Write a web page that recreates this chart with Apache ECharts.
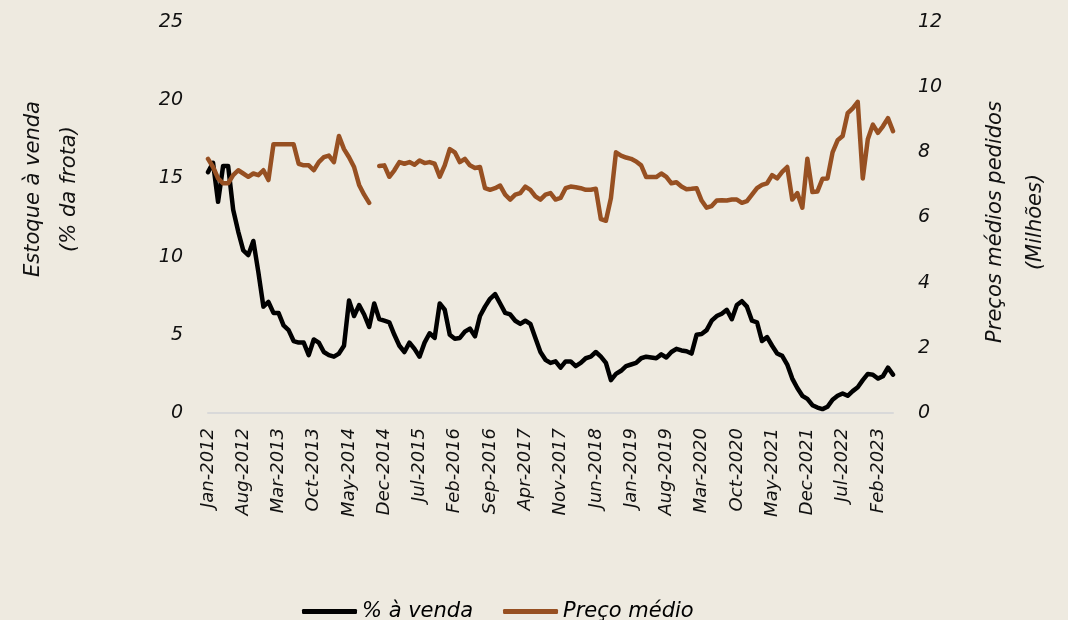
<!DOCTYPE html>
<html>
<head>
<meta charset="utf-8">
<script src="https://cdn.jsdelivr.net/npm/echarts@6/dist/echarts.min.js"></script>
<style>
html,body{margin:0;padding:0;background:#EEEAE0;}
#c{width:1068px;height:620px;}
</style>
</head>
<body>
<div id="c"></div>
<script>
// Categories: monthly, Jan-2012 .. May-2023
const monthNames = ['Jan','Feb','Mar','Apr','May','Jun','Jul','Aug','Sep','Oct','Nov','Dec'];
const startYear = 2012;
const nMonths = 137;
const categories = [];
for (let i = 0; i < nMonths; i++) {
  categories.push(monthNames[i % 12] + '-' + (startYear + Math.floor(i / 12)));
}

// % à venda (left axis, % da frota)
const pctForSale = [
  15.4,16.0,13.5,15.8,15.8,13.0,11.6,10.4,10.1,11.0,
  9.0,6.8,7.1,6.4,6.4,5.6,5.3,4.6,4.5,4.5,
  3.7,4.7,4.5,3.9,3.7,3.6,3.8,4.3,7.2,6.2,
  6.9,6.3,5.5,7.0,6.0,5.9,5.8,5.0,4.3,3.9,
  4.5,4.1,3.6,4.5,5.1,4.8,7.0,6.6,5.0,4.75,
  4.8,5.2,5.4,4.9,6.2,6.8,7.3,7.6,7.0,6.4,
  6.3,5.9,5.7,5.9,5.7,4.8,3.9,3.4,3.2,3.3,
  2.9,3.3,3.3,3.0,3.2,3.5,3.6,3.9,3.6,3.2,
  2.1,2.5,2.7,3.0,3.1,3.2,3.5,3.6,3.55,3.5,
  3.75,3.55,3.9,4.1,4.0,3.95,3.8,5.0,5.05,5.3,
  5.9,6.2,6.35,6.6,6.0,6.9,7.15,6.8,5.9,5.8,
  4.6,4.85,4.3,3.8,3.65,3.1,2.2,1.6,1.1,0.9,
  0.5,0.35,0.25,0.4,0.85,1.1,1.25,1.1,1.4,1.65,
  2.1,2.5,2.45,2.2,2.35,2.9,2.45
];

// Preço médio (right axis, milhões)
const avgPrice = [
  7.8,7.55,7.2,7.05,7.05,7.3,7.45,7.35,7.25,7.35,
  7.3,7.45,7.15,8.25,8.25,8.25,8.25,8.25,7.65,7.6,
  7.6,7.45,7.7,7.85,7.9,7.7,8.5,8.1,7.85,7.55,
  7.0,6.7,6.45,null,7.58,7.6,7.25,7.45,7.7,7.65,
  7.7,7.62,7.75,7.67,7.7,7.65,7.25,7.6,8.1,8.0,
  7.7,7.8,7.6,7.52,7.55,6.9,6.85,6.9,6.98,6.7,
  6.55,6.7,6.75,6.95,6.85,6.65,6.55,6.7,6.75,6.55,
  6.6,6.9,6.95,6.93,6.9,6.85,6.85,6.88,5.95,5.9,
  6.6,8.0,7.9,7.84,7.8,7.72,7.6,7.24,7.24,7.24,
  7.35,7.25,7.05,7.08,6.95,6.87,6.88,6.9,6.52,6.3,
  6.35,6.52,6.53,6.52,6.55,6.55,6.45,6.5,6.7,6.9,
  7.0,7.05,7.3,7.2,7.4,7.55,6.55,6.75,6.3,7.8,
  6.78,6.8,7.19,7.2,8.0,8.37,8.5,9.2,9.35,9.55,
  7.2,8.4,8.85,8.6,8.8,9.05,8.65
];

const leftTicks = {min:0, max:25, interval:5};
const rightTicks = {min:0, max:12, interval:2};
const seriesNames = ['% à venda', 'Preço médio'];
const leftTitle = 'Estoque à venda\n(% da frota)';
const rightTitle = 'Preços médios pedidos\n(Milhões)';

const FONT = 'DejaVu Sans';
const chart = echarts.init(document.getElementById('c'), null, {renderer:'canvas'});
chart.setOption({
  backgroundColor: '#EEEAE0',
  animation: false,
  grid: {left: 208, right: 175, top: 22, bottom: 207, containLabel: false},
  legend: {
    data: seriesNames,
    left: 297, top: 596,
    icon: 'roundRect',
    itemWidth: 55, itemHeight: 5,
    itemGap: 30,
    textStyle: {fontFamily: FONT, fontStyle: 'italic', fontSize: 21, color: '#000'}
  },
  xAxis: {
    type: 'category',
    data: categories,
    boundaryGap: false,
    axisLine: {lineStyle: {color: '#D9D9D9', width: 2}},
    axisTick: {show: false},
    axisLabel: {
      interval: 6, rotate: 90, margin: 15,
      fontFamily: FONT, fontStyle: 'italic', fontSize: 18, color: '#111'
    },
    splitLine: {show: false}
  },
  yAxis: [
    {
      type: 'value', min: leftTicks.min, max: leftTicks.max, interval: leftTicks.interval,
      axisLine: {show: false}, axisTick: {show: false}, splitLine: {show: false},
      axisLabel: {margin: 25, fontFamily: FONT, fontStyle: 'italic', fontSize: 19, color: '#111'}
    },
    {
      type: 'value', min: rightTicks.min, max: rightTicks.max, interval: rightTicks.interval,
      position: 'right',
      axisLine: {show: false}, axisTick: {show: false}, splitLine: {show: false},
      axisLabel: {margin: 25, fontFamily: FONT, fontStyle: 'italic', fontSize: 19, color: '#111'}
    }
  ],
  graphic: [
    {
      type: 'text', x: 52, y: 189, rotation: Math.PI / 2,
      style: {text: leftTitle, textAlign: 'center', textVerticalAlign: 'middle',
        font: 'italic 21px "DejaVu Sans"', lineHeight: 36, fill: '#111'}
    },
    {
      type: 'text', x: 1016, y: 222, rotation: Math.PI / 2,
      style: {text: rightTitle, textAlign: 'center', textVerticalAlign: 'middle',
        font: 'italic 21px "DejaVu Sans"', lineHeight: 40, fill: '#111'}
    }
  ],
  series: [
    {
      name: seriesNames[0], type: 'line', yAxisIndex: 0, data: pctForSale,
      showSymbol: false, symbol: 'none',
      lineStyle: {color: '#000000', width: 4.5, join: 'round', cap: 'round'},
      itemStyle: {color: '#000000'}
    },
    {
      name: seriesNames[1], type: 'line', yAxisIndex: 1, data: avgPrice,
      showSymbol: false, symbol: 'none', connectNulls: false,
      lineStyle: {color: '#975022', width: 4.5, join: 'round', cap: 'round'},
      itemStyle: {color: '#975022'}
    }
  ]
});
</script>
</body>
</html>
